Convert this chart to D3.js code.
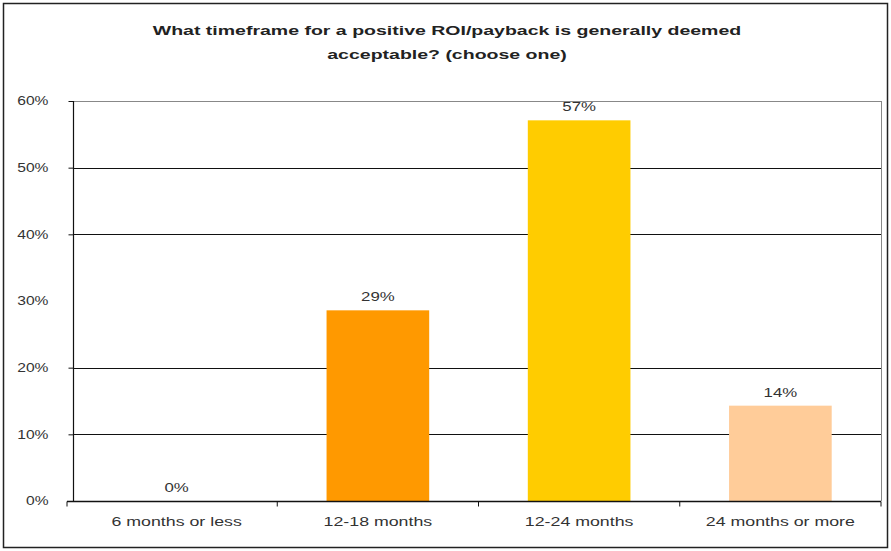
<!DOCTYPE html>
<html><head><meta charset="utf-8">
<script src="https://cdn.jsdelivr.net/npm/d3@7"></script>
<style>body{margin:0;background:#fff;}svg{display:block;font-family:"Liberation Sans",Arial,sans-serif;}</style>
</head><body><svg id="c" width="891" height="551"></svg>
<script>
const categories = ["6 months or less", "12-18 months", "12-24 months", "24 months or more"];
const values = [0, 28.6, 57.1, 14.3];
const valueLabels = ["0%", "29%", "57%", "14%"];
const colors = ["#FF9900", "#FF9900", "#FFCC00", "#FFCC99"];
const yTicks = [0, 10, 20, 30, 40, 50, 60];
const gridValues = [10, 20, 40, 50];
const titleLines = ["What timeframe for a positive ROI/payback is generally deemed", "acceptable? (choose one)"];

(function () {
const svg = d3.select("#c");
function stretch(sel, k) {
  sel.each(function () {
    const w = this.getComputedTextLength();
    d3.select(this).attr("textLength", w * k).attr("lengthAdjust", "spacingAndGlyphs");
  });
}
svg.append("rect").attr("x", 3.5).attr("y", 3.5).attr("width", 884).attr("height", 544)
  .attr("fill", "#fff").attr("stroke", "#222").attr("stroke-width", 1.5);

const pL = 73, pR = 881, pT = 101, pB = 501;
const x = d3.scaleBand().domain(categories).range([pL + 3, pR]).paddingInner(0.49).paddingOuter(0.245);
const xb = d3.scaleBand().domain(categories).range([pL + 3, pR]);
const y = d3.scaleLinear().domain([0, 60]).range([pB, pT]);

svg.append("line").attr("x1", pL).attr("x2", pR).attr("y1", pT + 0.5).attr("y2", pT + 0.5).attr("stroke", "#888");
svg.append("line").attr("x1", pR + 0.5).attr("x2", pR + 0.5).attr("y1", pT).attr("y2", pB).attr("stroke", "#888");

svg.append("g").selectAll("line").data(gridValues).join("line")
  .attr("x1", pL).attr("x2", pR)
  .attr("y1", d => Math.round(y(d)) + 0.5).attr("y2", d => Math.round(y(d)) + 0.5)
  .attr("stroke", "#111").attr("stroke-width", 1.2);

svg.append("g").selectAll("rect").data(values).join("rect")
  .attr("x", (d, i) => x(categories[i])).attr("width", x.bandwidth())
  .attr("y", d => y(d)).attr("height", d => pB - y(d))
  .attr("fill", (d, i) => colors[i]);

const yAxis = d3.axisLeft(y).tickValues(yTicks.filter(v => v !== 30)).tickFormat(d => d + "%").tickSize(5).tickPadding(20);
const gy = svg.append("g").attr("transform", `translate(${pL + 0.5},0)`).call(yAxis);
gy.select(".domain").attr("stroke", "#111").attr("stroke-width", 1.2).attr("d", `M0,${pT}V${pB}`);
gy.selectAll(".tick line").attr("stroke", "#111");
gy.selectAll("text").attr("font-size", 12).attr("fill", "#333").attr("font-family", "Liberation Sans, Arial");
gy.append("text").attr("x", -25).attr("y", y(30)).attr("dy", "0.32em").attr("text-anchor", "end")
  .attr("font-size", 12).attr("fill", "#333").text("30%");
stretch(gy.selectAll("text"), 1.3);

const gx = svg.append("g").attr("transform", `translate(0,${pB + 0.5})`)
  .call(d3.axisBottom(xb).tickSize(0).tickPadding(16));
gx.select(".domain").attr("stroke", "#111").attr("stroke-width", 1.5).attr("d", `M${pL - 6},0H${pR}`);
gx.selectAll("text").attr("font-size", 12).attr("fill", "#333").attr("font-family", "Liberation Sans, Arial");
stretch(gx.selectAll("text"), 1.48);
const bounds = [pL - 6].concat(categories.map(c => xb(c) + xb.bandwidth()));
gx.append("g").selectAll("line").data(bounds).join("line")
  .attr("x1", d => d).attr("x2", d => d).attr("y1", 0).attr("y2", 5).attr("stroke", "#111");

const vl = svg.append("g").selectAll("text").data(values).join("text")
  .attr("x", (d, i) => x(categories[i]) + x.bandwidth() / 2)
  .attr("y", d => y(d) - 9)
  .attr("text-anchor", "middle").attr("font-size", 12).attr("fill", "#333")
  .text((d, i) => valueLabels[i]);
stretch(vl, 1.4);

const tt = svg.append("g").selectAll("text").data(titleLines).join("text")
  .attr("x", 447).attr("y", (d, i) => 35 + i * 24)
  .attr("text-anchor", "middle").attr("font-size", 13).attr("font-weight", "bold").attr("fill", "#222")
  .text(d => d);
stretch(tt, 1.5);
})();
</script></body></html>
